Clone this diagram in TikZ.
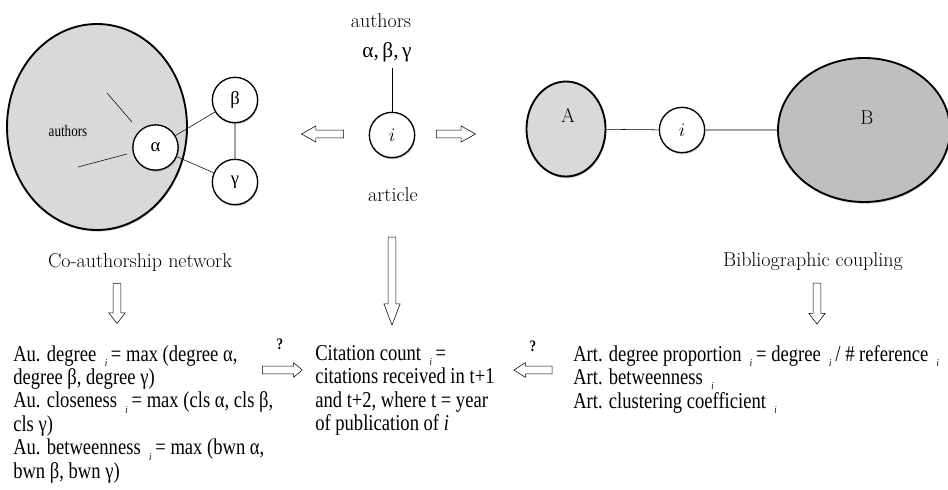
\documentclass[tikz,border=0pt]{standalone}
\usepackage{fontspec}
\newfontfamily\tnr[FakeStretch=0.82]{Liberation Serif}
\newfontfamily\grk{Liberation Serif}
\usetikzlibrary{shapes.geometric,shapes.arrows,shadows}
\definecolor{lightfill}{gray}{0.85}
\definecolor{darkfill}{gray}{0.75}
\newcommand\isub[1]{\,\raisebox{-0.5ex}{\fontsize{8}{8}\selectfont\itshape #1}\,}
\tikzset{
  shade/.style={drop shadow={shadow xshift=0.5pt,shadow yshift=-1.2pt,fill=black!45}},
  vertex/.style={circle,draw,line width=1pt,fill=white,minimum size=34pt,inner sep=0pt,shade},
  cluster/.style={ellipse,draw,line width=1.4pt,inner sep=0pt,shade},
  hollow/.style={single arrow,draw,fill=white,inner sep=2.7pt,single arrow head extend=3.2pt,minimum height=#1},
  caption/.style={font=\fontsize{15}{17}\selectfont},
  txt/.style={font=\tnr\fontsize{17}{17.6}\selectfont,align=left,anchor=north west,inner sep=0pt},
  ask/.style={font=\tnr\bfseries\fontsize{12}{12}\selectfont},
}
\begin{document}
\begin{tikzpicture}[x=0.75pt,y=-0.75pt]
\useasboundingbox (0,0) rectangle (948,489);
% co-authorship network
\node[cluster,fill=lightfill,minimum width=135pt,minimum height=154.5pt] (net) at (97,127) {};
\node[font=\tnr\fontsize{12}{12}\selectfont] (others) at (68,131) {authors};
\node[vertex,font=\grk\fontsize{14}{14}\selectfont] (alpha) at (155.5,147.5) {α};
\node[vertex,font=\grk\fontsize{14}{14}\selectfont] (beta) at (235,100) {β};
\node[vertex,font=\grk\fontsize{14}{14}\selectfont] (gamma) at (235,182) {γ};
\coordinate (s1) at (107,93);
\coordinate (s2) at (78,167);
\draw (alpha) -- (beta) -- (gamma) -- (alpha);
\draw (s1) -- (132,122);
\draw (s2) -- (127,154);
\node[caption] (conet) at (140,262) {Co-authorship network};
% article
\node[caption] (auth) at (381,21) {authors};
\node[font=\grk\fontsize{16}{16}\selectfont] (greek) at (387,52) {α,\,β,\,γ};
\coordinate (top) at (392,68);
\node[vertex,font=\fontsize{14}{14}\selectfont] (art) at (392,135) {$i$};
\draw (top) -- (art);
\node[caption] (artlab) at (393,195) {article};
\node[hollow=31.5pt,single arrow tip angle=59,shape border rotate=180] (toleft) at (326,134) {};
\node[hollow=29.25pt,single arrow tip angle=59] (toright) at (452.5,134) {};
\node[hollow=66pt,single arrow tip angle=42,shape border rotate=270] (down) at (392,276) {};
% bibliographic coupling
\node[cluster,fill=lightfill,minimum width=59.25pt,minimum height=71.25pt] (A) at (566,129) {};
\node[caption] at (568,115) {A};
\node[cluster,fill=darkfill,minimum width=129pt,minimum height=108pt] (B) at (864,130) {};
\node[caption] at (867,118) {B};
\node[vertex,font=\fontsize{14}{14}\selectfont] (ib) at (682,130) {$i$};
\draw (A) -- (ib) -- (B);
\node[caption] (bib) at (813,262) {Bibliographic coupling};
% indicators
\node[hollow=30pt,single arrow tip angle=75,shape border rotate=270] (downl) at (117,301) {};
\node[hollow=30.75pt,single arrow tip angle=75,shape border rotate=270] (downr) at (817,301) {};
\node[txt] (aut) at (13,345) {Au. degree \isub{i}= max (degree α,\\
degree β, degree γ)\\
Au. closeness \isub{i}= max (cls α, cls β,\\
cls γ)\\
Au. betweenness \isub{i}= max (bwn α,\\
bwn β, bwn γ)};
\node[txt] (cit) at (315,345) {Citation count \isub{i}=\\
citations received in t+1\\
and t+2, where t = year\\
of publication of \textit{i}};
\node[txt] (artm) at (573,345) {Art. degree proportion \isub{i}= degree \isub{i}/ \# reference \isub{i}\\
Art. betweenness \isub{i}\\
Art. clustering coefficient \isub{i}};
\node[ask] (q1) at (280,344) {?};
\node[ask] (q2) at (533,346) {?};
\node[hollow=30pt,single arrow tip angle=80,single arrow head extend=2.6pt] (inl) at (280,370) {};
\node[hollow=28.5pt,single arrow tip angle=66,single arrow head extend=2.6pt,shape border rotate=180] (inr) at (536,370) {};
\end{tikzpicture}
\end{document}
